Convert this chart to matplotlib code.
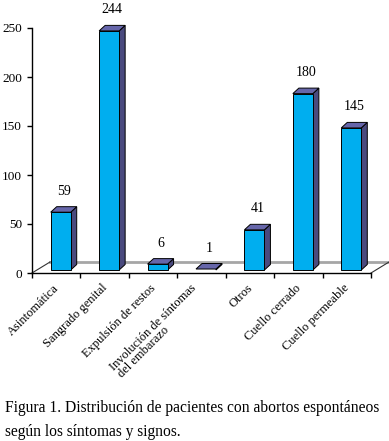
import matplotlib
matplotlib.use("Agg")
import matplotlib.pyplot as plt
from matplotlib.patches import Polygon

# categories and counts
categorias = ["Asintomática", "Sangrado genital", "Expulsión de restos",
              "Involución de síntomas\ndel embarazo", "Otros",
              "Cuello cerrado", "Cuello permeable"]
pacientes = [59, 244, 6, 1, 41, 180, 145]
yticks = [0, 50, 100, 150, 200, 250]

plt.rcParams['font.family'] = ['Liberation Serif', 'DejaVu Serif']

W, H = 389, 441
fig = plt.figure(figsize=(W / 100, H / 100), dpi=100)
x0, x1, y0, y1 = 32, 371, 273, 28   # axes box in pixels
ax = fig.add_axes([x0 / W, (H - y0) / H, (x1 - x0) / W, (y0 - y1) / H])
n = len(categorias)
ax.set_xlim(0, n)
ax.set_ylim(0, 250)

# pixel -> data scale
px = n / (x1 - x0)
py = 250 / (y0 - y1)

front = '#00AEEF'
top = '#6666AA'
side = '#4A4A7E'

# floor drawn in fake 3D
fdx, fdy = 18 * px, 11 * py
ax.plot([0, fdx], [0, fdy], color='#333333', lw=0.8, clip_on=False)
ax.plot([n, n + fdx], [0, fdy], color='#333333', lw=0.8, clip_on=False)
ax.plot([fdx, n + fdx], [fdy, fdy], color='#A6A6A6', lw=2, clip_on=False,
        zorder=1)

bw = 20 * px           # bar front width
ox, oy = 4.5 * px, 3 * py   # bar front offset into depth
ddx, ddy = 6 * px, 5.5 * py  # bar depth

for i, v in enumerate(pacientes):
    cx = i + 0.5 + ox
    l, r = cx - bw / 2, cx + bw / 2
    b, t = oy, oy + v
    ax.add_patch(Polygon([(r, b), (r + ddx, b + ddy), (r + ddx, t + ddy), (r, t)],
                         closed=True, facecolor=side, edgecolor='black',
                         lw=0.7, zorder=3, clip_on=False))
    ax.add_patch(Polygon([(l, t), (r, t), (r + ddx, t + ddy), (l + ddx, t + ddy)],
                         closed=True, facecolor=top, edgecolor='black',
                         lw=0.7, zorder=3, clip_on=False))
    if v > 2:
        ax.add_patch(Polygon([(l, b), (r, b), (r, t), (l, t)], closed=True,
                             facecolor=front, edgecolor='black', lw=0.7,
                             zorder=4, clip_on=False))
    ax.text(cx + ddx / 2, t + ddy + 9 * py, str(v), ha='center', va='bottom',
            fontsize=10)

    ax.annotate(categorias[i], xy=(i + 0.5, 0), xycoords=('data', 'axes fraction'),
                xytext=(5, -9), textcoords='offset pixels', rotation=45,
                ha='right', va='top', fontsize=9, multialignment='left',
                linespacing=0.85)

for s in ['top', 'right']:
    ax.spines[s].set_visible(False)
ax.spines['left'].set_linewidth(1)
ax.spines['bottom'].set_linewidth(1)
ax.set_yticks(yticks)
ax.set_xticks(range(n + 1))
ax.set_xticklabels([])
ax.tick_params(axis='both', direction='out', length=3.6, width=1, labelsize=9.5,
               pad=3.5)

fig.text(5 / W, 1 - 408 / H, "Figura 1. Distribución de pacientes con abortos espontáneos",
         fontsize=11.2, va='center', ha='left')
fig.text(5 / W, 1 - 432 / H, "según los síntomas y signos.",
         fontsize=11.2, va='center', ha='left')

fig.savefig("out.png", dpi=100)
